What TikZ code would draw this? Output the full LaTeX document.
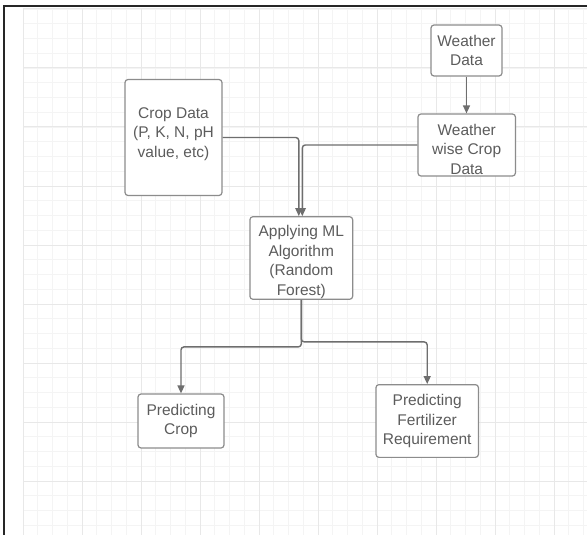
\documentclass[tikz,border=0pt]{standalone}
\usepackage{fontspec}
\setmainfont{Liberation Sans}
\usetikzlibrary{arrows.meta}

\definecolor{gridminor}{HTML}{F4F4F4}
\definecolor{gridmajor}{HTML}{E8E8E8}
\definecolor{boxgray}{HTML}{8C8C8C}
\definecolor{linegray}{HTML}{6E6E6E}
\definecolor{txtgray}{HTML}{5C5C5C}

\begin{document}
\begin{tikzpicture}[x=1pt, y=-1pt, font=\fontsize{15.5}{19.5}\selectfont,
    blk/.style={draw=boxgray, fill=white, line width=1.2pt, rounded corners=3pt, align=center, inner sep=0pt, text=txtgray},
    conn/.style={draw=linegray, line width=1.4pt, rounded corners=3pt, -{Triangle[length=8pt,width=7pt]}}]
    \useasboundingbox (0,0) rectangle (587,535);
    \fill[white] (0,0) rectangle (587,535);
    % grid
    \foreach \i in {0,...,38}
        \draw[gridminor, line width=0.8pt] ({23+14.75*\i},9) -- ({23+14.75*\i},535);
    \foreach \i in {0,...,35}
        \draw[gridminor, line width=0.8pt] (23,{9+14.75*\i}) -- (587,{9+14.75*\i});
    \foreach \i in {0,4,...,36}
        \draw[gridmajor, line width=1pt] ({23+14.75*\i},9) -- ({23+14.75*\i},535);
    \foreach \i in {0,4,...,32}
        \draw[gridmajor, line width=1pt] (23,{9+14.75*\i}) -- (587,{9+14.75*\i});
    \draw[black!85, line width=1.5pt] (4,535) -- (4,6) -- (587,6);

    \node[blk, minimum width=71pt, minimum height=51pt] (wdata) at (466.5,50.5) {Weather\\Data};
    \node[blk, minimum width=97pt, minimum height=116pt] (cdata) at (173.5,137.5) {Crop Data\\(P, K, N, pH\\value, etc)\rule[-10.5pt]{0pt}{10.5pt}};
    \node[blk, minimum width=97.5pt, minimum height=62pt] (wcrop) at (466.7,145) {\rule{0pt}{19.5pt}Weather\\wise Crop\\Data};
    \node[blk, minimum width=102.7pt, minimum height=82.6pt] (ml) at (301.3,258) {\rule{0pt}{19.5pt}Applying ML\\Algorithm\\(Random\\Forest)};
    \node[blk, minimum width=86pt, minimum height=54pt] (pcrop) at (181,421) {Predicting\\Crop};
    \node[blk, minimum width=102.5pt, minimum height=72.7pt] (pfert) at (427.2,421) {Predicting\\Fertilizer\\Requirement};

    \draw[conn] (wdata) -- (wdata |- wcrop.north);
    \draw[conn] (cdata.east) -| ([xshift=-2.5pt]ml.north);
    \draw[conn] (wcrop.west) -| ([xshift=1pt]ml.north);
    \draw[conn] (ml.south) -- ++(0,47) -| (pcrop.north);
    \draw[conn] (ml.south) -- ++(0,42) -| (pfert.north);
\end{tikzpicture}
\end{document}
